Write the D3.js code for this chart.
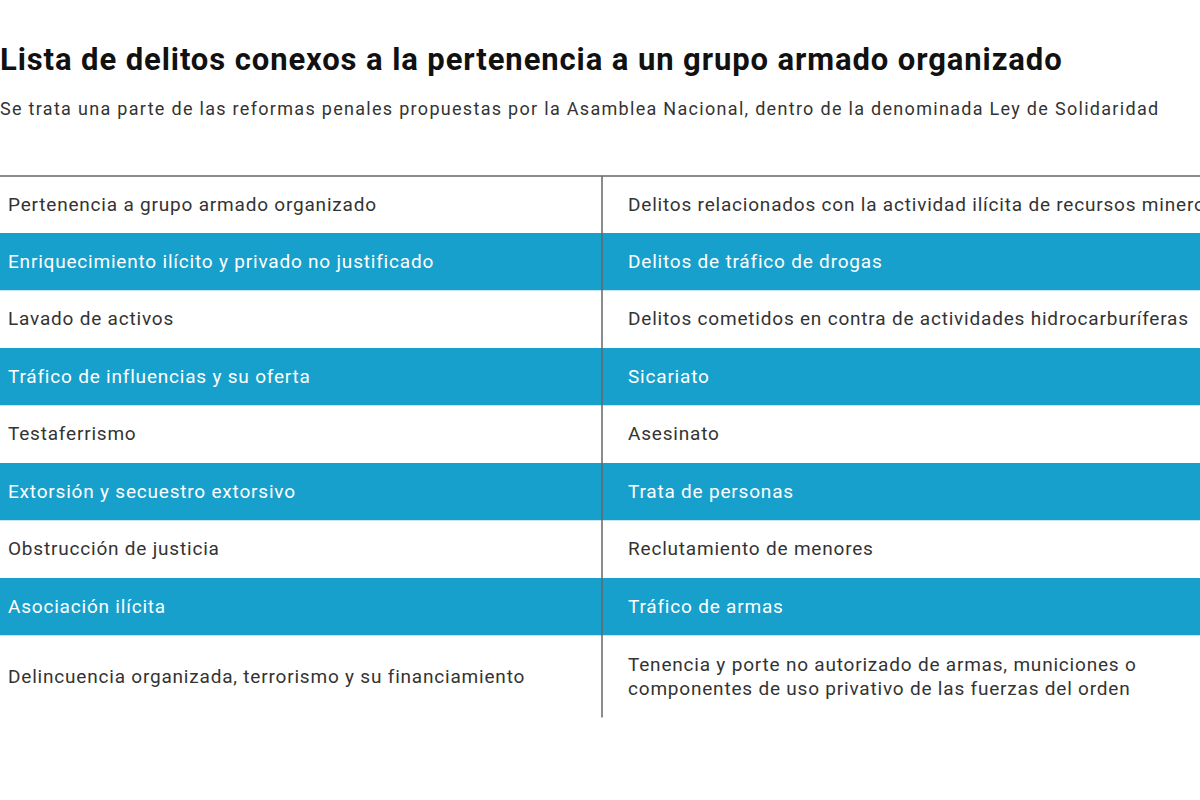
<!DOCTYPE html>
<html><head><meta charset="utf-8">
<script src="https://cdn.jsdelivr.net/npm/d3@7"></script>
<style>body{margin:0;background:#fff;font-family:Roboto,"Noto Sans",sans-serif;}</style>
</head><body><svg id="chart" width="1200" height="800"></svg>
<script>
const title = "Lista de delitos conexos a la pertenencia a un grupo armado organizado";
const subtitle = "Se trata una parte de las reformas penales propuestas por la Asamblea Nacional, dentro de la denominada Ley de Solidaridad";
const colLeft = [
  "Pertenencia a grupo armado organizado",
  "Enriquecimiento ilícito y privado no justificado",
  "Lavado de activos",
  "Tráfico de influencias y su oferta",
  "Testaferrismo",
  "Extorsión y secuestro extorsivo",
  "Obstrucción de justicia",
  "Asociación ilícita",
  "Delincuencia organizada, terrorismo y su financiamiento"
];
const colRight = [
  "Delitos relacionados con la actividad ilícita de recursos mineros",
  "Delitos de tráfico de drogas",
  "Delitos cometidos en contra de actividades hidrocarburíferas",
  "Sicariato",
  "Asesinato",
  "Trata de personas",
  "Reclutamiento de menores",
  "Tráfico de armas",
  "Tenencia y porte no autorizado de armas, municiones o\ncomponentes de uso privativo de las fuerzas del orden"
];
const rowHeights = [57, 57.5, 57.5, 57.5, 57.5, 57.5, 57.5, 57.5, 82];

const svg = d3.select("#chart");
const blue = "#17a0cb";
const top0 = 176, divX = 602;

svg.append("text").attr("x", 0).attr("y", 70)
  .style("font-size", "31px").style("font-weight", "bold").style("fill", "#111")
  .style("letter-spacing", "0.9px")
  .text(title);
svg.append("text").attr("x", 0).attr("y", 115)
  .style("font-size", "18px").style("fill", "#333")
  .style("letter-spacing", "1.3px")
  .text(subtitle);

const ys = [top0];
rowHeights.forEach(h => ys.push(ys[ys.length - 1] + h));

const rows = svg.append("g").selectAll("g")
  .data(colLeft.map((d, i) => ({ left: d, right: colRight[i], i })))
  .join("g")
  .attr("transform", d => `translate(0,${ys[d.i]})`);

rows.append("rect")
  .attr("x", 0).attr("width", 1200)
  .attr("height", d => rowHeights[d.i])
  .attr("fill", d => d.i % 2 ? blue : "#fff");

function addText(sel, key, x) {
  sel.each(function(d) {
    const lines = d[key].split("\n");
    const h = rowHeights[d.i];
    const lh = 24;
    const t = d3.select(this).append("text")
      .attr("x", x)
      .style("font-size", "19px")
      .style("letter-spacing", "0.8px")
      .style("fill", d.i % 2 ? "#fff" : "#333");
    lines.forEach((l, k) => {
      t.append("tspan").attr("x", x)
        .attr("y", h / 2 + 6 + (k - (lines.length - 1) / 2) * lh)
        .text(l);
    });
  });
}
addText(rows, "left", 8);
addText(rows, "right", 628);

svg.append("line").attr("x1", 0).attr("x2", 1200).attr("y1", top0).attr("y2", top0)
  .attr("stroke", "#666").attr("stroke-width", 1.5);
svg.append("line").attr("x1", divX).attr("x2", divX).attr("y1", top0).attr("y2", ys[ys.length - 1])
  .attr("stroke", "#666").attr("stroke-width", 1.5);
</script></body></html>
